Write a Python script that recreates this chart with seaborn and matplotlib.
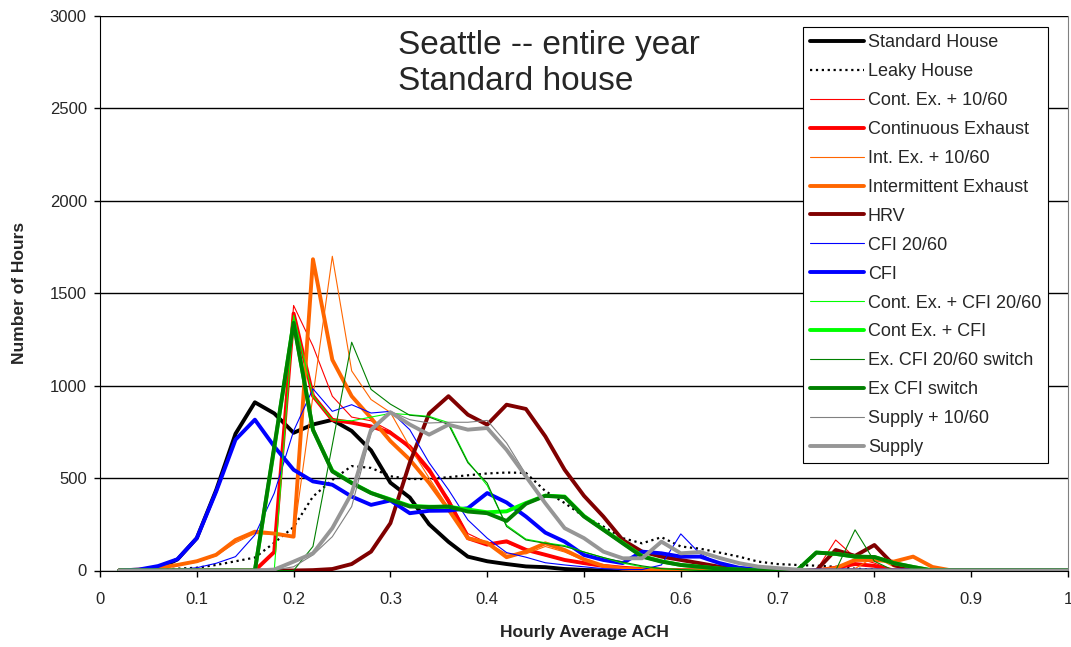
import numpy as np
import pandas as pd
import matplotlib
matplotlib.use("Agg")
import matplotlib.pyplot as plt
import seaborn as sns

x_ach = [round(0.02 * i, 2) for i in range(1, 51)]

def pad(v):
    return v + [0] * (50 - len(v))

standard_house = pad([0, 0, 10, 60, 175, 435, 740, 910, 850, 745, 790, 815, 755, 650, 475, 395, 250, 155, 75, 50,
                      35, 22, 18, 8, 3])
leaky_house = pad([0, 0, 5, 10, 15, 30, 50, 70, 150, 235, 400, 490, 565, 555, 510, 495, 495, 505, 515, 525,
                   530, 528, 430, 365, 292, 238, 175, 147, 180, 130, 118, 97, 75, 48, 35, 30, 26, 20, 10, 5])
cont_ex_1060 = pad([0, 0, 0, 0, 0, 0, 0, 0, 95, 1434, 1214, 943, 830, 810, 755, 655, 530, 390, 200, 150,
                    150, 110, 80, 55, 35, 20, 10, 5, 0, 0, 0, 0, 0, 0, 0, 0, 0, 165, 70, 40])
cont_exhaust = pad([0, 0, 0, 0, 0, 0, 0, 0, 100, 1390, 945, 815, 800, 780, 745, 670, 545, 375, 175, 140,
                    158, 112, 85, 57, 40, 25, 15, 8, 5, 0, 0, 0, 0, 0, 0, 0, 0, 15, 35, 25])
int_ex_1060 = pad([0, 3, 12, 28, 45, 80, 150, 200, 195, 185, 945, 1700, 1080, 925, 855, 670, 500, 340, 180, 150,
                   90, 90, 130, 100, 55, 25, 10, 5, 0, 0, 0, 0, 0, 0, 0, 0, 0, 0, 10, 75, 20])
int_exhaust = pad([0, 5, 15, 30, 50, 85, 165, 210, 200, 183, 1684, 1140, 943, 825, 700, 600, 474, 330, 175, 150,
                   72, 102, 147, 111, 60, 25, 10, 5, 0, 0, 0, 0, 0, 0, 0, 0, 0, 13, 57, 57, 48, 75, 19])
hrv = pad([0, 0, 0, 0, 0, 0, 0, 0, 0, 0, 2, 8, 35, 102, 256, 583, 850, 943, 843, 789,
           897, 874, 726, 545, 404, 292, 165, 102, 75, 57, 39, 20, 8, 0, 0, 0, 0, 111, 79, 138, 30])
cfi_2060 = pad([0, 0, 2, 5, 15, 39, 75, 192, 418, 755, 983, 861, 897, 852, 861, 762, 583, 437, 274, 175,
                97, 72, 42, 30, 20, 10, 5, 5, 30, 198, 90, 35, 15, 5])
cfi = pad([0, 5, 24, 61, 175, 427, 708, 816, 671, 545, 482, 464, 400, 355, 379, 310, 323, 324, 337, 419,
           368, 292, 205, 156, 84, 57, 40, 102, 93, 75, 75, 40, 15, 5])
cont_ex_cfi_2060 = pad([0, 0, 0, 0, 0, 0, 0, 0, 0, 1380, 945, 815, 810, 830, 850, 843, 834, 800, 590, 460,
                        245, 170, 150, 135, 100, 70, 40, 20, 10, 5])
cont_ex_cfi = pad([0, 0, 0, 0, 0, 0, 0, 0, 660, 1345, 760, 540, 475, 420, 385, 350, 345, 345, 330, 315,
                   320, 365, 405, 400, 295, 222, 150, 78, 50, 30, 20, 10, 5, 0, 0, 0, 97, 90, 75, 73, 40, 19])
ex_cfi_2060_switch = pad([0, 0, 0, 0, 0, 0, 0, 0, 0, 0, 130, 680, 1235, 980, 900, 840, 830, 790, 583, 473,
                          238, 165, 147, 130, 100, 70, 45, 25, 10, 5, 0, 0, 0, 0, 0, 0, 0, 0, 220, 50])
ex_cfi_switch = pad([0, 0, 0, 0, 0, 0, 0, 0, 670, 1340, 762, 536, 473, 419, 382, 346, 343, 346, 319, 310,
                     268, 361, 404, 397, 292, 220, 147, 75, 48, 30, 20, 10, 5, 0, 0, 0, 97, 90, 75, 73, 40, 19])
supply_1060 = pad([0, 0, 0, 0, 0, 0, 0, 0, 3, 20, 84, 183, 346, 744, 861, 816, 798, 802, 802, 812,
                   690, 520, 370, 235, 175, 105, 68, 66, 150, 95, 95, 65, 40, 20, 12, 5])
supply = pad([0, 0, 0, 0, 0, 0, 0, 0, 5, 48, 93, 229, 418, 762, 856, 790, 735, 789, 762, 771,
              653, 509, 364, 229, 175, 102, 66, 66, 156, 93, 100, 68, 40, 21, 13, 5])

series = [
    ("Standard House", standard_house, "#000000", 2.8, "-"),
    ("Leaky House", leaky_house, "#000000", 1.6, ":"),
    ("Cont. Ex. + 10/60", cont_ex_1060, "#FF0000", 0.8, "-"),
    ("Continuous Exhaust", cont_exhaust, "#FF0000", 2.8, "-"),
    ("Int. Ex. + 10/60", int_ex_1060, "#FF6600", 0.8, "-"),
    ("Intermittent Exhaust", int_exhaust, "#FF6600", 2.8, "-"),
    ("HRV", hrv, "#800000", 2.8, "-"),
    ("CFI 20/60", cfi_2060, "#0000FF", 0.8, "-"),
    ("CFI", cfi, "#0000FF", 2.8, "-"),
    ("Cont. Ex. + CFI 20/60", cont_ex_cfi_2060, "#00FF00", 0.8, "-"),
    ("Cont Ex. + CFI", cont_ex_cfi, "#00FF00", 2.8, "-"),
    ("Ex. CFI 20/60 switch", ex_cfi_2060_switch, "#008000", 0.8, "-"),
    ("Ex CFI switch", ex_cfi_switch, "#008000", 2.8, "-"),
    ("Supply + 10/60", supply_1060, "#808080", 0.8, "-"),
    ("Supply", supply, "#969696", 2.8, "-"),
]

sns.set_style("white")
plt.rcParams["font.family"] = ["Liberation Sans", "DejaVu Sans"]

fig = plt.figure(figsize=(10.71, 6.47), dpi=100)
ax = fig.add_axes([100 / 1071, 1 - 570.5 / 647, 968 / 1071, 554.5 / 647])

for name, vals, col, lw, ls in series:
    sns.lineplot(x=x_ach, y=vals, ax=ax, color=col, linewidth=lw, linestyle=ls, label=name)

ax.set_xlim(0, 1)
ax.set_ylim(0, 3000)
ax.set_xticks([0, 0.1, 0.2, 0.3, 0.4, 0.5, 0.6, 0.7, 0.8, 0.9, 1.0])
ax.set_xticklabels(["0", "0.1", "0.2", "0.3", "0.4", "0.5", "0.6", "0.7", "0.8", "0.9", "1"])
ax.set_yticks(range(0, 3001, 500))
ax.yaxis.grid(True, color="black", linewidth=1.0)
ax.xaxis.grid(False)
ax.set_axisbelow(True)
ax.tick_params(axis="both", labelsize=12, direction="out", length=4.5, width=1, color="black",
               bottom=True, left=True)
ax.tick_params(axis="x", pad=11)
ax.tick_params(axis="y", pad=5)
ax.spines["top"].set_visible(False)
ax.spines["right"].set_color("#808080")
ax.spines["left"].set_color("black")
ax.spines["bottom"].set_color("black")

ax.set_xlabel("Hourly Average ACH", fontsize=12.5, fontweight="bold", labelpad=13)
ax.set_ylabel("Number of Hours", fontsize=12.5, fontweight="bold", labelpad=16)

ax.text(0.308, 0.975, "Seattle -- entire year\nStandard house", transform=ax.transAxes,
        ha="left", va="top", fontsize=24, linespacing=1.22)

leg = ax.legend(loc="upper left", bbox_to_anchor=(0.726, 0.98), borderaxespad=0, fontsize=13,
                frameon=True, fancybox=False, edgecolor="black", framealpha=1,
                handlelength=3.0, handletextpad=0.2, labelspacing=0.66, borderpad=0.4)
leg.get_frame().set_linewidth(0.8)

fig.savefig("out.png", dpi=100)
